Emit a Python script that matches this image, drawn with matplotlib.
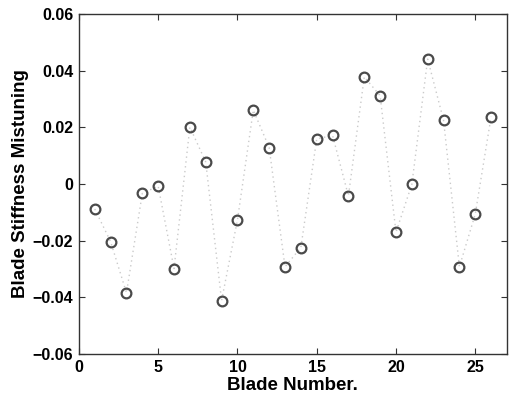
import matplotlib
matplotlib.use("Agg")
import matplotlib.pyplot as plt

blade = list(range(1, 27))
mistuning = [-0.0088, -0.0203, -0.0384, -0.0033, -0.0007, -0.0298, 0.0201, 0.0078,
             -0.0411, -0.0127, 0.0261, 0.0129, -0.0292, -0.0224, 0.0159, 0.0172,
             -0.0042, 0.0378, 0.0312, -0.0170, -0.0001, 0.0441, 0.0225, -0.0292,
             -0.0106, 0.0238]

xticks = [0, 5, 10, 15, 20, 25]
yticks = [-0.06, -0.04, -0.02, 0, 0.02, 0.04, 0.06]
ytick_labels = ["\u22120.06", "\u22120.04", "\u22120.02", "0", "0.02", "0.04", "0.06"]

plt.rcParams['font.family'] = ['Liberation Sans', 'DejaVu Sans']
plt.rcParams['font.weight'] = 'bold'

fig = plt.figure(figsize=(5.09, 4.01), dpi=100)
ax = fig.add_axes([0.155, 0.117, 0.841, 0.848])

# dotted connecting line, then open circle markers
ax.plot(blade, mistuning, linestyle=(0, (1, 2.5)), color='#cacaca', linewidth=1.0)
ax.plot(blade, mistuning, linestyle='none', marker='o', markersize=7,
        markerfacecolor='none', markeredgecolor='#4a4a4a', markeredgewidth=1.6)

ax.set_xlim(0, 27)
ax.set_ylim(-0.06, 0.06)
ax.set_xticks(xticks)
ax.set_yticks(yticks)
ax.set_yticklabels(ytick_labels)
ax.tick_params(direction='in', length=4, labelsize=11.5, color='#333333', pad=4,
               top=True, right=True)
for lab in ax.get_xticklabels() + ax.get_yticklabels():
    lab.set_fontweight('bold')
for sp in ax.spines.values():
    sp.set_color('#333333')
    sp.set_linewidth(1.0)

ax.set_xlabel("Blade Number.", fontsize=13.5, fontweight='bold', labelpad=2)
ax.set_ylabel("Blade Stiffness Mistuning", fontsize=13.5, fontweight='bold', labelpad=3)

fig.savefig("out.png", dpi=100)
